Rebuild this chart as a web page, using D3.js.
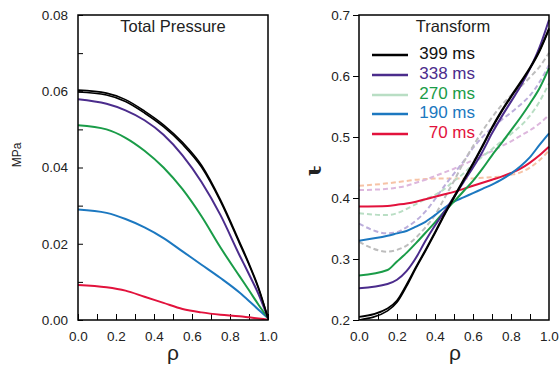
<!DOCTYPE html>
<html>
<head>
<meta charset="utf-8">
<script src="https://cdnjs.cloudflare.com/ajax/libs/d3/7.8.5/d3.min.js"></script>
<style>
  body { margin: 0; background: #fff; }
  text { font-family: "Liberation Sans", Arial, sans-serif; fill: #222; }
</style>
</head>
<body>
<div id="chart"></div>
<script>
// ---- data: left panel (total pressure, MPa) ----
var rhoP = [0, 0.15, 0.25, 0.35, 0.45, 0.55, 0.65, 0.75, 0.85, 0.9, 0.95, 1.0];
var p399a = [0.0603, 0.0595, 0.0578, 0.0548, 0.0512, 0.0466, 0.0406, 0.0315, 0.0205, 0.0148, 0.0085, 0.0005];
var p399b = [0.0598, 0.0590, 0.0573, 0.0543, 0.0507, 0.0461, 0.0401, 0.0311, 0.0201, 0.0145, 0.0082, 0.0005];
var p338 = [0.0579, 0.0567, 0.0550, 0.0524, 0.0486, 0.0432, 0.0362, 0.0275, 0.0170, 0.0120, 0.0068, 0.0005];
var p270 = [0.0511, 0.0500, 0.0478, 0.0444, 0.0400, 0.0343, 0.0272, 0.0190, 0.0115, 0.0078, 0.0040, 0.0005];
var p190 = [0.0290, 0.0281, 0.0265, 0.0243, 0.0215, 0.0180, 0.0145, 0.0110, 0.0072, 0.0050, 0.0027, 0.0005];
var p70 = [0.0092, 0.0086, 0.0077, 0.0061, 0.0045, 0.0029, 0.0020, 0.0014, 0.0010, 0.0007, 0.0004, 0.0001];

// ---- data: right panel (rotational transform) ----
var rhoT = [0, 0.15, 0.2, 0.25, 0.3, 0.35, 0.4, 0.45, 0.5, 0.55, 0.6, 0.65, 0.7, 0.75, 0.8, 0.85, 0.9, 0.95, 1.0];
var t399a = [0.205, 0.219, 0.232, 0.258, 0.287, 0.315, 0.344, 0.374, 0.402, 0.430, 0.457, 0.486, 0.516, 0.543, 0.567, 0.590, 0.614, 0.642, 0.678];
var t399b = [0.200, 0.215, 0.229, 0.255, 0.285, 0.313, 0.342, 0.372, 0.400, 0.428, 0.455, 0.484, 0.514, 0.541, 0.565, 0.588, 0.612, 0.640, 0.676];
var t338 = [0.252, 0.259, 0.266, 0.280, 0.302, 0.330, 0.355, 0.378, 0.402, 0.426, 0.450, 0.476, 0.506, 0.533, 0.558, 0.583, 0.612, 0.647, 0.692];
var t270 = [0.273, 0.282, 0.296, 0.310, 0.326, 0.343, 0.360, 0.378, 0.394, 0.411, 0.428, 0.448, 0.470, 0.490, 0.511, 0.532, 0.555, 0.580, 0.613];
var t190 = [0.330, 0.338, 0.342, 0.346, 0.353, 0.361, 0.372, 0.384, 0.394, 0.401, 0.408, 0.415, 0.422, 0.430, 0.440, 0.452, 0.467, 0.487, 0.506];
var t70 = [0.386, 0.387, 0.389, 0.391, 0.394, 0.398, 0.402, 0.406, 0.410, 0.415, 0.420, 0.425, 0.430, 0.435, 0.441, 0.448, 0.458, 0.470, 0.484];
// pale dashed reference profiles
var dGrey = [0.328, 0.312, 0.315, 0.322, 0.335, 0.352, 0.372, 0.400, 0.428, 0.458, 0.485, 0.510, 0.532, 0.552, 0.568, 0.582, 0.598, 0.615, 0.638];
var dLav = [0.358, 0.342, 0.344, 0.352, 0.363, 0.378, 0.398, 0.420, 0.440, 0.460, 0.482, 0.500, 0.515, 0.528, 0.540, 0.553, 0.568, 0.590, 0.618];
var dGreen = [0.375, 0.372, 0.375, 0.382, 0.390, 0.398, 0.405, 0.415, 0.428, 0.440, 0.455, 0.468, 0.480, 0.493, 0.505, 0.518, 0.535, 0.558, 0.588];
var dPink = [0.413, 0.415, 0.417, 0.420, 0.425, 0.430, 0.436, 0.442, 0.448, 0.455, 0.462, 0.470, 0.477, 0.485, 0.493, 0.502, 0.511, 0.522, 0.536];
var dOrange = [0.420, 0.424, 0.426, 0.428, 0.430, 0.431, 0.432, 0.432, 0.432, 0.432, 0.432, 0.433, 0.434, 0.435, 0.438, 0.442, 0.450, 0.462, 0.478];

var legendLabels = ["399 ms", "338 ms", "270 ms", "190 ms", "70 ms"];
var legendText = ["#111111", "#4b2c8c", "#1a9c48", "#1c78c0", "#e2123c"];
var legendLine = ["#000000", "#4b2c8c", "#b9dec4", "#1c78c0", "#e2123c"];

var W = 559, H = 365;
var svg = d3.select("#chart").append("svg")
    .attr("width", W)
    .attr("height", H);

function zip(xs, ys) { return xs.map((x, i) => [x, ys[i]]); }

function frame(x, y) {
    var x0 = x.range()[0], x1 = x.range()[1], y0 = y.range()[0], y1 = y.range()[1];
    svg.append("rect")
        .attr("x", x0).attr("y", y1)
        .attr("width", x1 - x0).attr("height", y0 - y1)
        .attr("fill", "none").attr("stroke", "#000").attr("stroke-width", 1.5);
}

function drawLines(x, y, rho, series) {
    var line = d3.line()
        .x(d => x(d[0]))
        .y(d => y(d[1]))
        .curve(d3.curveMonotoneX);
    var clip = "clip" + Math.round(x.range()[0]);
    svg.append("clipPath").attr("id", clip)
        .append("rect")
        .attr("x", x.range()[0]).attr("y", y.range()[1] - 3)
        .attr("width", x.range()[1] - x.range()[0] + 3)
        .attr("height", y.range()[0] - y.range()[1] + 3);
    svg.append("g").attr("clip-path", "url(#" + clip + ")")
        .selectAll("path")
        .data(series)
        .enter().append("path")
        .attr("d", s => line(zip(rho, s.v)))
        .attr("fill", "none")
        .attr("stroke", s => s.c)
        .attr("stroke-width", s => s.w)
        .attr("stroke-dasharray", s => s.dash || null)
        .attr("stroke-linejoin", "round");
}

// ---------- left panel ----------
var xL = d3.scaleLinear().domain([0, 1]).range([78, 268]);
var yL = d3.scaleLinear().domain([0, 0.08]).range([320, 15]);

svg.append("g")
    .attr("transform", "translate(0,320)")
    .call(d3.axisBottom(xL).tickValues(d3.range(0, 1.01, 0.1)).tickSize(-6).tickFormat(""))
    .call(g => g.select(".domain").remove());
svg.append("g")
    .attr("transform", "translate(0,320)")
    .call(d3.axisBottom(xL).tickValues([0, 0.2, 0.4, 0.6, 0.8, 1.0]).tickSize(0).tickPadding(11).tickFormat(d3.format(".1f")))
    .call(g => g.select(".domain").remove())
    .selectAll("text").style("font-size", "13.5px");
svg.append("g")
    .attr("transform", "translate(78,0)")
    .call(d3.axisLeft(yL).tickValues(d3.range(0, 0.081, 0.01)).tickSize(-5).tickFormat(""))
    .call(g => g.select(".domain").remove());
svg.append("g")
    .attr("transform", "translate(78,0)")
    .call(d3.axisLeft(yL).tickValues([0, 0.02, 0.04, 0.06, 0.08]).tickSize(0).tickPadding(10).tickFormat(d3.format(".2f")))
    .call(g => g.select(".domain").remove())
    .selectAll("text").style("font-size", "13.5px");

drawLines(xL, yL, rhoP, [
    { v: p70, c: "#e2123c", w: 2 },
    { v: p190, c: "#1c78c0", w: 2 },
    { v: p270, c: "#1a9c48", w: 2 },
    { v: p338, c: "#4b2c8c", w: 2 },
    { v: p399b, c: "#000", w: 1.6 },
    { v: p399a, c: "#000", w: 1.6 }
]);
frame(xL, yL);

svg.append("text").attr("x", 173).attr("y", 32)
    .attr("text-anchor", "middle").style("font-size", "16.5px").text("Total Pressure");
svg.append("text")
    .attr("transform", "translate(21,155) rotate(-90)")
    .attr("text-anchor", "middle").style("font-size", "12px").text("MPa");
svg.append("text").attr("x", 173).attr("y", 360)
    .attr("text-anchor", "middle").style("font-size", "21px").text("ρ");

// ---------- right panel ----------
var xR = d3.scaleLinear().domain([0, 1]).range([359, 549]);
var yR = d3.scaleLinear().domain([0.2, 0.7]).range([320, 15]);

svg.append("g")
    .attr("transform", "translate(0,320)")
    .call(d3.axisBottom(xR).tickValues(d3.range(0.1, 0.95, 0.1)).tickSize(-6).tickFormat(""))
    .call(g => g.select(".domain").remove());
svg.append("g")
    .attr("transform", "translate(0,320)")
    .call(d3.axisBottom(xR).tickValues([0, 0.2, 0.4, 0.6, 0.8, 1.0]).tickSize(0).tickPadding(11).tickFormat(d3.format(".1f")))
    .call(g => g.select(".domain").remove())
    .selectAll("text").style("font-size", "13.5px");
svg.append("g")
    .attr("transform", "translate(359,0)")
    .call(d3.axisLeft(yR).tickValues([0.2, 0.3, 0.4, 0.5, 0.6, 0.7]).tickSize(6).tickPadding(3).tickFormat(d3.format(".1f")))
    .call(g => g.select(".domain").remove())
    .selectAll("text").style("font-size", "13.5px");

drawLines(xR, yR, rhoT, [
    { v: dOrange, c: "#f6c3a6", w: 2, dash: "5,3" },
    { v: dPink, c: "#ddb7dd", w: 2, dash: "5,3" },
    { v: dGreen, c: "#b9dec4", w: 2, dash: "5,3" },
    { v: dLav, c: "#bcaedb", w: 2, dash: "5,3" },
    { v: dGrey, c: "#bdbdbd", w: 2, dash: "5,3" },
    { v: t70, c: "#e2123c", w: 2 },
    { v: t190, c: "#1c78c0", w: 2 },
    { v: t270, c: "#1a9c48", w: 2 },
    { v: t338, c: "#4b2c8c", w: 2 },
    { v: t399b, c: "#000", w: 1.6 },
    { v: t399a, c: "#000", w: 1.8 }
]);
frame(xR, yR);

svg.append("text").attr("x", 453).attr("y", 32)
    .attr("text-anchor", "middle").style("font-size", "16.5px").text("Transform");
svg.append("text")
    .attr("transform", "translate(321,171) rotate(-90)")
    .attr("text-anchor", "middle")
    .style("font-family", "'DejaVu Serif', serif")
    .style("font-weight", "bold")
    .style("font-size", "22px").text("ι\u0335");
svg.append("text").attr("x", 455).attr("y", 360)
    .attr("text-anchor", "middle").style("font-size", "21px").text("ρ");

// legend
var legendY = [55, 75, 95, 114, 134];
var lg = svg.append("g").selectAll("g")
    .data(legendLabels)
    .enter().append("g");
lg.append("line")
    .attr("x1", 372).attr("x2", 408)
    .attr("y1", (d, i) => legendY[i]).attr("y2", (d, i) => legendY[i])
    .attr("stroke", (d, i) => legendLine[i])
    .attr("stroke-width", 2.5);
lg.append("text")
    .attr("x", 475)
    .attr("y", (d, i) => legendY[i] + 4)
    .attr("text-anchor", "end")
    .style("font-size", "17px")
    .style("fill", (d, i) => legendText[i])
    .text(d => d);
</script>
</body>
</html>
